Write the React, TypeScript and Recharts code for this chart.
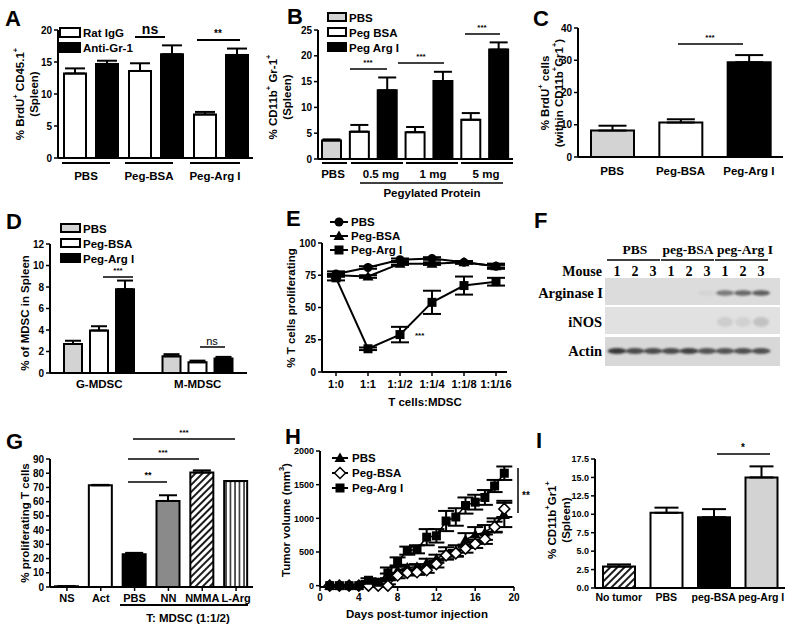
import React from 'react';
import { BarChart, Bar, LineChart, Line, XAxis, YAxis, ErrorBar, Cell } from 'recharts';

const SANS = '"Liberation Sans", Arial, sans-serif';
const SERIF = '"Liberation Serif", "Times New Roman", serif';

// A - BrdU+ CD45.1+
const aGroups = ['PBS', 'Peg-BSA', 'Peg-Arg I'];
const aRatIgG = [13.2, 13.6, 6.8];
const aRatIgGErr = [0.8, 1.2, 0.4];
const aAntiGr1 = [14.7, 16.2, 16.1];
const aAntiGr1Err = [0.5, 1.4, 1.0];
const aTicks = [0, 5, 10, 15, 20];

// B - CD11b+ Gr-1+ by dose
const bPbs = 3.6;
const bPbsErr = 0.2;
const bDoses = ['0.5 mg', '1 mg', '5 mg'];
const bPegBsa = [5.3, 5.2, 7.6];
const bPegBsaErr = [1.3, 1.0, 1.3];
const bPegArg = [13.3, 15.1, 21.2];
const bPegArgErr = [2.5, 1.8, 1.4];
const bTicks = [0, 5, 10, 15, 20, 25];

// C - BrdU+ within MDSC
const cGroups = ['PBS', 'Peg-BSA', 'Peg-Arg I'];
const cValues = [8.2, 10.7, 29.4];
const cErr = [1.5, 1.0, 2.2];
const cTicks = [0, 10, 20, 30, 40];

// D - MDSC subsets
const dSubsets = ['G-MDSC', 'M-MDSC'];
const dPbs = [2.7, 1.55];
const dPbsErr = [0.3, 0.2];
const dPegBsa = [3.95, 1.0];
const dPegBsaErr = [0.4, 0.15];
const dPegArg = [7.8, 1.35];
const dPegArgErr = [0.8, 0.15];
const dTicks = [0, 2, 4, 6, 8, 10, 12];

// E - suppression assay
const eRatios = ['1:0', '1:1', '1:1/2', '1:1/4', '1:1/8', '1:1/16'];
const ePbs = [76, 81, 87, 88, 85, 82];
const ePbsErr = [2, 1, 1, 1, 1, 2];
const ePegBsa = [75, 74, 84, 84, 85, 82];
const ePegBsaErr = [1, 1, 1, 1, 1, 1];
const ePegArg = [73, 18, 29, 54, 67, 70];
const ePegArgErr = [2, 1, 6, 9, 7, 3];
const eTicks = [0, 25, 50, 75, 100];

// F - western blot
const fGroups = ['PBS', 'peg-BSA', 'peg-Arg I'];
const fMice = ['1', '2', '3', '1', '2', '3', '1', '2', '3'];
const fArginase = [0, 0, 0, 0, 0, 0.04, 0.55, 0.65, 0.7];
const fInos = [0, 0, 0, 0, 0, 0, 0.1, 0.08, 0.16];
const fActin = [0.85, 0.75, 0.75, 0.75, 0.8, 0.7, 0.7, 0.72, 0.72];

// G - inhibitors
const gConditions = ['NS', 'Act', 'PBS', 'NN', 'NMMA', 'L-Arg'];
const gValues = [0.5, 71.5, 23, 60.5, 80.5, 74.5];
const gErr = [0, 0.3, 1, 4, 1.5, 0];
const gTicks = [0, 10, 20, 30, 40, 50, 60, 70, 80, 90];

// H - tumor growth
const hDays = [1, 2, 3, 4, 5, 6, 7, 8, 9, 10, 11, 12, 13, 14, 15, 16, 17, 18, 19];
const hPbs = [0, 0, 0, 0, 50, 40, 130, 230, 270, 280, 340, 400, 480, 520, 680, 760, 790, 900, 1050];
const hPbsErr = [0, 0, 0, 0, 20, 20, 50, 50, 40, 40, 60, 60, 90, 80, 100, 110, 110, 100, 180];
const hPegBsa = [0, 0, 0, 0, 0, 0, 0, 150, 190, 200, 230, 320, 450, 480, 550, 620, 690, 870, 1140];
const hPegBsaErr = [0, 0, 0, 0, 10, 10, 20, 40, 40, 40, 40, 50, 60, 50, 60, 60, 70, 80, 120];
const hPegArg = [0, 0, 0, 0, 80, 50, 190, 360, 520, 540, 720, 740, 960, 1020, 1190, 1240, 1310, 1480, 1670];
const hPegArgErr = [0, 0, 0, 0, 30, 40, 80, 60, 60, 60, 120, 100, 150, 130, 120, 110, 110, 90, 100];
const hXTicks = [0, 4, 8, 12, 16, 20];
const hYTicks = [0, 500, 1000, 1500, 2000];

// I - CD11b+Gr1+ in tumor-bearing mice
const iGroups = ['No tumor', 'PBS', 'peg-BSA', 'peg-Arg I'];
const iValues = [2.9, 10.2, 9.6, 15.0];
const iErr = [0.3, 0.7, 1.1, 1.5];
const iTicks = [0, 2.5, 5, 7.5, 10, 12.5, 15, 17.5];

const GRAY = '#d3d3d3';
const AXIS = { stroke: '#000', strokeWidth: 2 };
const TICKLINE = { stroke: '#000', strokeWidth: 1.5 };
const TICK = { fill: '#000', fontSize: 10, fontWeight: 700, fontFamily: SANS };
const SMALL_TICK = { ...TICK, fontSize: 9 };
const CAT = { fill: '#000', fontSize: 11.5, fontWeight: 700, fontFamily: SANS };

const yAxis = (ticks: number[], width: number, fmt?: (v: number) => string, tick = TICK) => (
  <YAxis
    type="number"
    domain={[ticks[0], ticks[ticks.length - 1]]}
    ticks={ticks}
    interval={0}
    width={width}
    axisLine={AXIS}
    tickLine={TICKLINE}
    tickSize={4}
    tickMargin={2}
    tick={tick}
    tickFormatter={fmt}
  />
);

const upErr = (e: number) => [0, e];

const aRows = aGroups.map((g, i) => ({
  name: g,
  rat: aRatIgG[i],
  ratErr: upErr(aRatIgGErr[i]),
  anti: aAntiGr1[i],
  antiErr: upErr(aAntiGr1Err[i]),
}));

const bRows = [
  { name: 'PBS', kind: 'pbs', value: bPbs, err: upErr(bPbsErr) },
  ...bDoses.flatMap((d, i) => [
    { name: d + ' BSA', kind: 'bsa', value: bPegBsa[i], err: upErr(bPegBsaErr[i]) },
    { name: d + ' Arg', kind: 'arg', value: bPegArg[i], err: upErr(bPegArgErr[i]) },
  ]),
];
const B_FILL: Record<string, string> = { pbs: GRAY, bsa: '#fff', arg: '#000' };

const cRows = cGroups.map((g, i) => ({ name: g, value: cValues[i], err: upErr(cErr[i]) }));
const C_FILLS = [GRAY, '#fff', '#000'];

const dRows = dSubsets.map((s, i) => ({
  name: s,
  pbs: dPbs[i], pbsErr: upErr(dPbsErr[i]),
  bsa: dPegBsa[i], bsaErr: upErr(dPegBsaErr[i]),
  arg: dPegArg[i], argErr: upErr(dPegArgErr[i]),
}));

const eRows = eRatios.map((r, i) => ({
  name: r,
  pbs: ePbs[i], pbsErr: ePbsErr[i],
  bsa: ePegBsa[i], bsaErr: ePegBsaErr[i],
  arg: ePegArg[i], argErr: ePegArgErr[i],
}));

const gRows = gConditions.map((c, i) => ({ name: c, value: gValues[i], err: upErr(gErr[i]) }));
const G_FILLS = ['#fff', '#fff', '#000', '#8a8a8a', 'url(#hatchDiag)', 'url(#hatchVert)'];

const hRows = hDays.map((d, i) => ({
  day: d,
  pbs: hPbs[i], pbsErr: hPbsErr[i],
  bsa: hPegBsa[i], bsaErr: hPegBsaErr[i],
  arg: hPegArg[i], argErr: hPegArgErr[i],
}));

const iRows = iGroups.map((g, i) => ({ name: g, value: iValues[i], err: upErr(iErr[i]) }));
const I_FILLS = ['url(#hatchDiag)', '#fff', '#000', GRAY];

// marker shapes
const circleAt = (cx: number, cy: number, k?: any) => <circle key={k} cx={cx} cy={cy} r={4.5} fill="#000" />;
const triAt = (cx: number, cy: number, k?: any) => (
  <path key={k} d={`M${cx},${cy - 5.5} L${cx + 5.5},${cy + 4} L${cx - 5.5},${cy + 4} Z`} fill="#000" />
);
const squareAt = (cx: number, cy: number, k?: any) => <rect key={k} x={cx - 4.5} y={cy - 4.5} width={9} height={9} fill="#000" />;
const diamondAt = (cx: number, cy: number, k?: any) => (
  <path key={k} d={`M${cx},${cy - 5.5} L${cx + 5.5},${cy} L${cx},${cy + 5.5} L${cx - 5.5},${cy} Z`} fill="#fff" stroke="#000" strokeWidth={1.5} />
);
const dotFn = (shape: (x: number, y: number, k?: any) => React.ReactElement) => (p: any) =>
  p.cx == null || p.cy == null ? <g key={p.index} /> : shape(p.cx, p.cy, p.index);

const Txt = ({ x, y, s = 11.5, a = 'start', w = 700, f = SANS, children }: any) => (
  <text x={x} y={y} fontSize={s} textAnchor={a} fontWeight={w} fontFamily={f} fill="#000">{children}</text>
);
const VTxt = ({ x, y, s = 11.5, children }: any) => (
  <text transform={`translate(${x},${y}) rotate(-90)`} fontSize={s} textAnchor="middle" dominantBaseline="central" fontWeight={700} fontFamily={SANS} fill="#000">{children}</text>
);
const Sup = ({ children }: any) => <tspan baselineShift="super" fontSize="0.65em">{children}</tspan>;
const Seg = ({ x1, y1, x2, y2, w = 2 }: any) => <line x1={x1} y1={y1} x2={x2} y2={y2} stroke="#000" strokeWidth={w} />;
const Box = ({ x, y, fill, w = 19, h = 8 }: any) => <rect x={x} y={y} width={w} height={h} fill={fill} stroke="#000" strokeWidth={2} />;
const Letter = ({ x, y, children }: any) => <Txt x={x} y={y} s={22}>{children}</Txt>;

const at = (left: number, top: number): React.CSSProperties => ({ position: 'absolute', left, top });

const laneX = (i: number) => 617 + i * 18;

function Blot() {
  const headX = [635, 688, 745];
  return (
    <g fontFamily={SERIF} fontWeight={700}>
      {fGroups.map((g, i) => (
        <g key={g}>
          <Txt x={headX[i]} y={254} s={13.5} a="middle" f={SERIF}>{g}</Txt>
          <Seg x1={laneX(i * 3) - 10} y1={260} x2={laneX(i * 3 + 2) + 7} y2={260} w={1.5} />
        </g>
      ))}
      <Txt x={602} y={276} s={14} a="end" f={SERIF}>Mouse</Txt>
      {fMice.map((m, i) => (
        <Txt key={i} x={laneX(i)} y={276} s={14} a="middle" f={SERIF}>{m}</Txt>
      ))}
      <rect x={605} y={278} width={175} height={27} fill="#dcdcdc" />
      <rect x={605} y={307} width={175} height={27} fill="#e1e1e1" />
      <rect x={605} y={337} width={175} height={29} fill="#d8d8d8" />
      <Txt x={603} y={298} s={14.5} a="end" f={SERIF}>Arginase I</Txt>
      <Txt x={602} y={327} s={14.5} a="end" f={SERIF}>iNOS</Txt>
      <Txt x={602} y={356} s={14.5} a="end" f={SERIF}>Actin</Txt>
      {fArginase.map((v, i) => v > 0 && (
        <ellipse key={'a' + i} cx={laneX(i)} cy={293} rx={9} ry={2.8} fill="#2a2a2a" opacity={v} filter="url(#blotBlur)" />
      ))}
      {fInos.map((v, i) => v > 0 && (
        <ellipse key={'n' + i} cx={laneX(i)} cy={322} rx={8} ry={5} fill="#2a2a2a" opacity={v} filter="url(#blotBlur)" />
      ))}
      {fActin.map((v, i) => (
        <ellipse key={'c' + i} cx={laneX(i)} cy={351} rx={9.5} ry={3} fill="#1a1a1a" opacity={v} filter="url(#blotBlur)" />
      ))}
    </g>
  );
}

function Overlay() {
  return (
    <svg width={800} height={631} style={{ position: 'absolute', left: 0, top: 0, zIndex: 2, pointerEvents: 'none' }}>
      <defs>
        <pattern id="hatchDiag" width="5" height="5" patternUnits="userSpaceOnUse" patternTransform="rotate(45)">
          <rect width="5" height="5" fill="#fff" />
          <line x1="1" y1="0" x2="1" y2="5" stroke="#000" strokeWidth="1.8" />
        </pattern>
        <pattern id="hatchVert" width="4.5" height="4.5" patternUnits="userSpaceOnUse">
          <rect width="4.5" height="4.5" fill="#fff" />
          <line x1="1" y1="0" x2="1" y2="4.5" stroke="#000" strokeWidth="1.3" />
        </pattern>
        <filter id="blotBlur" x="-50%" y="-100%" width="200%" height="300%">
          <feGaussianBlur stdDeviation="1.1" />
        </filter>
      </defs>

      {/* panel letters */}
      <Letter x={5} y={26}>A</Letter>
      <Letter x={287} y={24}>B</Letter>
      <Letter x={533} y={26}>C</Letter>
      <Letter x={6} y={229}>D</Letter>
      <Letter x={286} y={226}>E</Letter>
      <Letter x={534} y={228}>F</Letter>
      <Letter x={6} y={449}>G</Letter>
      <Letter x={285} y={444}>H</Letter>
      <Letter x={536} y={448}>I</Letter>

      {/* A */}
      <Box x={60} y={28} fill="#fff" w={20} h={9} />
      <Box x={60} y={43} fill="#000" w={20} h={9} />
      <Txt x={83} y={37}>Rat IgG</Txt>
      <Txt x={83} y={52}>Anti-Gr-1</Txt>
      <Seg x1={135} y1={37} x2={165} y2={37} />
      <Txt x={150} y={34} s={14} a="middle">ns</Txt>
      <Seg x1={197} y1={40} x2={240} y2={40} />
      <Txt x={218} y={37} s={10} a="middle">**</Txt>
      <Seg x1={62} y1={163} x2={110} y2={163} />
      <Seg x1={125} y1={163} x2={173} y2={163} />
      <Seg x1={190} y1={163} x2={240} y2={163} />
      <Txt x={86} y={180} a="middle">PBS</Txt>
      <Txt x={149} y={180} a="middle">Peg-BSA</Txt>
      <Txt x={215} y={180} a="middle">Peg-Arg I</Txt>
      <VTxt x={20} y={94}>% BrdU<Sup>+</Sup> CD45.1<Sup>+</Sup></VTxt>
      <VTxt x={34} y={94}>(Spleen)</VTxt>

      {/* B */}
      <Box x={328} y={13} fill={GRAY} w={18} h={8} />
      <Box x={328} y={28} fill="#fff" w={18} h={8} />
      <Box x={328} y={43} fill="#000" w={18} h={8} />
      <Txt x={349} y={22}>PBS</Txt>
      <Txt x={349} y={37}>Peg BSA</Txt>
      <Txt x={349} y={52}>Peg Arg I</Txt>
      <Seg x1={350} y1={69} x2={387} y2={69} w={1.5} />
      <Txt x={368} y={65} s={8} a="middle">***</Txt>
      <Seg x1={398} y1={63} x2={444} y2={63} w={1.5} />
      <Txt x={421} y={59} s={8} a="middle">***</Txt>
      <Seg x1={465} y1={34} x2={500} y2={34} w={1.5} />
      <Txt x={482} y={30} s={8} a="middle">***</Txt>
      <Seg x1={322} y1={163} x2={347} y2={163} />
      <Seg x1={351} y1={163} x2={403} y2={163} />
      <Seg x1={406} y1={163} x2={458} y2={163} />
      <Seg x1={461} y1={163} x2={513} y2={163} />
      <Txt x={333} y={178} a="middle">PBS</Txt>
      <Txt x={381} y={178} a="middle">0.5 mg</Txt>
      <Txt x={433} y={178} a="middle">1 mg</Txt>
      <Txt x={486} y={178} a="middle">5 mg</Txt>
      <Seg x1={360} y1={183} x2={503} y2={183} w={1.5} />
      <Txt x={432} y={197} a="middle">Pegylated Protein</Txt>
      <VTxt x={273} y={97}>% CD11b<Sup>+</Sup> Gr-1<Sup>+</Sup></VTxt>
      <VTxt x={287} y={97}>(Spleen)</VTxt>

      {/* C */}
      <Seg x1={678} y1={44} x2={743} y2={44} w={1.5} />
      <Txt x={710} y={40} s={8} a="middle">***</Txt>
      <VTxt x={545} y={93}>% BrdU<Sup>+</Sup> cells</VTxt>
      <VTxt x={559} y={93}>(within CD11b<Sup>+</Sup>Gr1<Sup>+</Sup>)</VTxt>

      {/* D */}
      <Box x={61} y={224} fill={GRAY} />
      <Box x={61} y={239} fill="#fff" />
      <Box x={61} y={254} fill="#000" />
      <Txt x={83} y={233}>PBS</Txt>
      <Txt x={83} y={248}>Peg-BSA</Txt>
      <Txt x={83} y={263}>Peg-Arg I</Txt>
      <Seg x1={103} y1={277} x2={133} y2={277} w={1.5} />
      <Txt x={118} y={273} s={8} a="middle">***</Txt>
      <Seg x1={200} y1={347} x2={225} y2={347} w={1.5} />
      <Txt x={212} y={345} s={11} a="middle" w={400}>ns</Txt>
      <VTxt x={25} y={313}>% of MDSC in Spleen</VTxt>

      {/* E */}
      <Seg x1={330} y1={222} x2={348} y2={222} />
      {circleAt(339, 222)}
      <Seg x1={330} y1={236} x2={348} y2={236} />
      {triAt(339, 236)}
      <Seg x1={330} y1={250} x2={348} y2={250} />
      {squareAt(339, 250)}
      <Txt x={351} y={226}>PBS</Txt>
      <Txt x={351} y={240}>Peg-BSA</Txt>
      <Txt x={351} y={254}>Peg-Arg I</Txt>
      <Txt x={415} y={338} s={8}>***</Txt>
      <Txt x={425} y={406} a="middle">T cells:MDSC</Txt>
      <VTxt x={291} y={308}>% T cells proliferating</VTxt>

      {/* F */}
      <Blot />

      {/* G */}
      <Seg x1={128} y1={482} x2={167} y2={482} w={1.5} />
      <Txt x={148} y={478} s={9} a="middle">**</Txt>
      <Seg x1={128} y1={459} x2={199} y2={459} w={1.5} />
      <Txt x={163} y={455} s={8} a="middle">***</Txt>
      <Seg x1={133} y1={439} x2={235} y2={439} w={1.5} />
      <Txt x={184} y={435} s={8} a="middle">***</Txt>
      <Seg x1={120} y1={605} x2={248} y2={605} />
      <Txt x={188} y={622} a="middle">T: MDSC (1:1/2)</Txt>
      <VTxt x={25} y={523}>% proliferating T cells</VTxt>

      {/* H */}
      <Seg x1={332} y1={458} x2={348} y2={458} />
      {triAt(340, 458)}
      <Seg x1={332} y1={473} x2={348} y2={473} />
      {diamondAt(340, 473)}
      <Seg x1={332} y1={488} x2={348} y2={488} />
      {squareAt(340, 488)}
      <Txt x={352} y={462}>PBS</Txt>
      <Txt x={352} y={477}>Peg-BSA</Txt>
      <Txt x={352} y={492}>Peg-Arg I</Txt>
      <Seg x1={518} y1={468} x2={518} y2={513} w={1.5} />
      <Txt x={522} y={499} s={10}>**</Txt>
      <Txt x={417} y={618} a="middle">Days post-tumor injection</Txt>
      <VTxt x={286} y={520}>Tumor volume (mm<Sup>3</Sup>)</VTxt>

      {/* I */}
      <Seg x1={717} y1={454} x2={770} y2={454} w={1.5} />
      <Txt x={743} y={451} s={10} a="middle">*</Txt>
      <VTxt x={552} y={520}>% CD11b<Sup>+</Sup>Gr1<Sup>+</Sup></VTxt>
      <VTxt x={566} y={520}>(Spleen)</VTxt>
    </svg>
  );
}

const errBar = (key: string, width = 10) => (
  <ErrorBar dataKey={key} width={width} strokeWidth={2} stroke="#000" direction="y" />
);

export default function App() {
  return (
    <div style={{ position: 'absolute', left: 0, top: 0, width: 800, height: 631, background: '#fff', fontFamily: SANS, overflow: 'hidden' }}>
      {/* A */}
      <div style={at(0, 0)}>
        <BarChart width={260} height={200} data={aRows} margin={{ top: 30, right: 7, bottom: 0, left: 0 }} barGap={10}>
          <XAxis dataKey="name" height={42} tick={false} tickLine={false} axisLine={AXIS} />
          {yAxis(aTicks, 58)}
          <Bar dataKey="rat" fill="#fff" stroke="#000" strokeWidth={2} barSize={22} isAnimationActive={false}>
            {errBar('ratErr')}
          </Bar>
          <Bar dataKey="anti" fill="#000" stroke="#000" strokeWidth={2} barSize={22} isAnimationActive={false}>
            {errBar('antiErr')}
          </Bar>
        </BarChart>
      </div>

      {/* B */}
      <div style={at(260, 0)}>
        <BarChart width={260} height={200} data={bRows} margin={{ top: 30, right: 7, bottom: 0, left: 0 }}>
          <XAxis dataKey="name" height={41} tick={false} tickLine={false} axisLine={AXIS} />
          {yAxis(bTicks, 58)}
          <Bar dataKey="value" stroke="#000" strokeWidth={2} barSize={19} isAnimationActive={false}>
            {bRows.map((r, i) => <Cell key={i} fill={B_FILL[r.kind]} />)}
            {errBar('err', 9)}
          </Bar>
        </BarChart>
      </div>

      {/* C */}
      <div style={at(530, 0)}>
        <BarChart width={260} height={200} data={cRows} margin={{ top: 28, right: 7, bottom: 0, left: 0 }}>
          <XAxis dataKey="name" height={43} tickLine={false} tickSize={0} tickMargin={10} tick={CAT} axisLine={AXIS} interval={0} />
          {yAxis(cTicks, 48)}
          <Bar dataKey="value" stroke="#000" strokeWidth={2} barSize={43} isAnimationActive={false}>
            {cRows.map((_, i) => <Cell key={i} fill={C_FILLS[i]} />)}
            {errBar('err', 14)}
          </Bar>
        </BarChart>
      </div>

      {/* D */}
      <div style={at(0, 200)}>
        <BarChart width={255} height={210} data={dRows} margin={{ top: 44, right: 8, bottom: 0, left: 0 }} barGap={8}>
          <XAxis dataKey="name" height={37} tickLine={false} tickSize={0} tickMargin={7} tick={CAT} axisLine={AXIS} interval={0} />
          {yAxis(dTicks, 50)}
          <Bar dataKey="pbs" fill={GRAY} stroke="#000" strokeWidth={2} barSize={18} isAnimationActive={false}>
            {errBar('pbsErr', 8)}
          </Bar>
          <Bar dataKey="bsa" fill="#fff" stroke="#000" strokeWidth={2} barSize={18} isAnimationActive={false}>
            {errBar('bsaErr', 8)}
          </Bar>
          <Bar dataKey="arg" fill="#000" stroke="#000" strokeWidth={2} barSize={18} isAnimationActive={false}>
            {errBar('argErr', 8)}
          </Bar>
        </BarChart>
      </div>

      {/* E */}
      <div style={at(260, 200)}>
        <LineChart width={255} height={210} data={eRows} margin={{ top: 43, right: 8, bottom: 0, left: 0 }}>
          <XAxis dataKey="name" type="category" padding={{ left: 14, right: 11 }} height={38} axisLine={AXIS} tickLine={TICKLINE} tickSize={4} tickMargin={4} tick={{ ...CAT, fontSize: 11 }} interval={0} />
          {yAxis(eTicks, 62)}
          <Line dataKey="pbs" stroke="#000" strokeWidth={2} dot={dotFn(circleAt)} isAnimationActive={false}>
            {errBar('pbsErr', 9)}
          </Line>
          <Line dataKey="bsa" stroke="#000" strokeWidth={2} dot={dotFn(triAt)} isAnimationActive={false}>
            {errBar('bsaErr', 9)}
          </Line>
          <Line dataKey="arg" stroke="#000" strokeWidth={2} dot={dotFn(squareAt)} isAnimationActive={false}>
            {errBar('argErr', 9)}
          </Line>
        </LineChart>
      </div>

      {/* G */}
      <div style={at(0, 420)}>
        <BarChart width={260} height={211} data={gRows} margin={{ top: 39, right: 7, bottom: 0, left: 0 }}>
          <XAxis dataKey="name" height={44} tickLine={TICKLINE} tickSize={4} tickMargin={3} tick={{ ...CAT, fontSize: 11 }} axisLine={AXIS} interval={0} />
          {yAxis(gTicks, 50)}
          <Bar dataKey="value" stroke="#000" strokeWidth={2} barSize={23} isAnimationActive={false}>
            {gRows.map((_, i) => <Cell key={i} fill={G_FILLS[i]} />)}
            {errBar('err', 9)}
          </Bar>
        </BarChart>
      </div>

      {/* H */}
      <div style={at(260, 420)}>
        <LineChart width={262} height={211} data={hRows} margin={{ top: 31, right: 8, bottom: 0, left: 0 }}>
          <XAxis dataKey="day" type="number" domain={[0, 20]} ticks={hXTicks} interval={0} height={44} axisLine={AXIS} tickLine={TICKLINE} tickSize={4} tickMargin={3} tick={TICK} />
          {yAxis(hYTicks, 60, undefined, SMALL_TICK)}
          <Line dataKey="pbs" stroke="#000" strokeWidth={1.5} dot={dotFn(triAt)} isAnimationActive={false}>
            {errBar('pbsErr', 8)}
          </Line>
          <Line dataKey="bsa" stroke="#000" strokeWidth={1.5} dot={dotFn(diamondAt)} isAnimationActive={false}>
            {errBar('bsaErr', 8)}
          </Line>
          <Line dataKey="arg" stroke="#000" strokeWidth={1.5} dot={dotFn(squareAt)} isAnimationActive={false}>
            {errBar('argErr', 8)}
          </Line>
        </LineChart>
      </div>

      {/* I */}
      <div style={at(530, 420)}>
        <BarChart width={262} height={211} data={iRows} margin={{ top: 39, right: 7, bottom: 0, left: 0 }}>
          <XAxis dataKey="name" height={43} tickLine={false} tickSize={0} tickMargin={6} tick={{ ...CAT, fontSize: 10.5 }} axisLine={AXIS} interval={0} />
          {yAxis(iTicks, 65, (v: number) => v.toFixed(1), SMALL_TICK)}
          <Bar dataKey="value" stroke="#000" strokeWidth={2} barSize={32} isAnimationActive={false}>
            {iRows.map((_, i) => <Cell key={i} fill={I_FILLS[i]} />)}
            {errBar('err', 12)}
          </Bar>
        </BarChart>
      </div>

      <Overlay />
    </div>
  );
}
